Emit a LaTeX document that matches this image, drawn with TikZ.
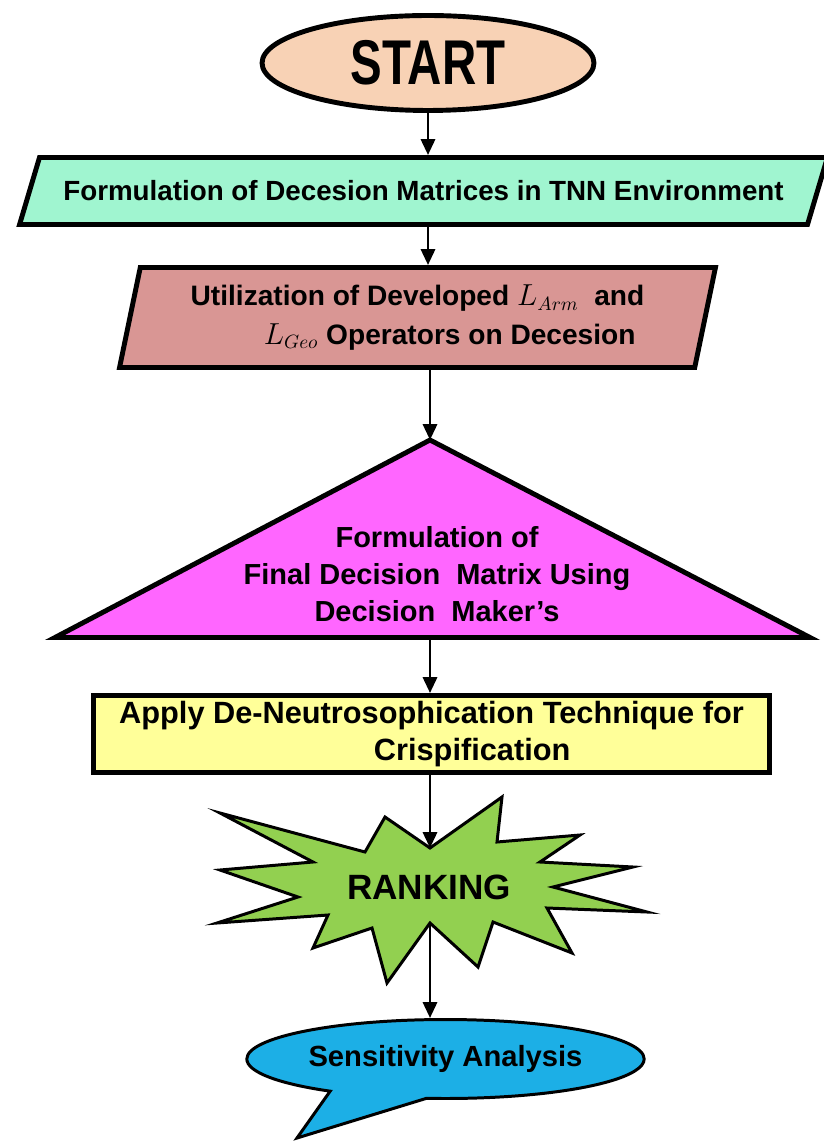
\documentclass[tikz,border=0pt]{standalone}
\usepackage{amsmath}
\usepackage{fontspec}
\setmainfont{Liberation Sans}
\newfontfamily\narrowsans[FakeStretch=0.75]{Liberation Sans}
\usetikzlibrary{positioning,arrows.meta}
\usetikzlibrary{shapes.geometric,shapes.callouts}

\definecolor{startfill}{HTML}{F8D2B5}
\definecolor{mintfill}{HTML}{A0F5D0}
\definecolor{rosefill}{HTML}{D99694}
\definecolor{pinkfill}{HTML}{FF66FF}
\definecolor{lemonfill}{HTML}{FFFF99}
\definecolor{leaffill}{HTML}{92D050}
\definecolor{skyfill}{HTML}{1CAFE6}

\newcommand{\bsize}[2]{\bfseries\fontsize{#1}{#2}\selectfont}

\tikzset{
  box/.style={draw, line width=2.8pt, text=black, inner sep=2pt},
  slant/.style={box, trapezium, trapezium stretches body},
  burst/.style={draw, line width=1.7pt, fill=leaffill, line join=miter},
  conn/.style={-{Triangle[width=8pt,length=9pt]}, line width=1.6pt},
}

\begin{document}
\begin{tikzpicture}[x=0.02cm, y=-0.02cm]
  \useasboundingbox (0,0) rectangle (823,1141);
  \node[box, ellipse, fill=startfill, minimum width=6.64cm, minimum height=1.9cm,
        font=\narrowsans\bsize{36}{40}] (start) at (428,63) {START};
  \node[slant, fill=mintfill, trapezium left angle=54, trapezium right angle=126,
        minimum width=16.16cm, minimum height=1.34cm, font=\bsize{15.8}{19}] (tnn) at (423.5,191)
    {Formulation of Decesion Matrices in TNN Environment};
  \node[slant, fill=rosefill, trapezium left angle=74, trapezium right angle=106,
        minimum width=11.92cm, minimum height=2cm, align=right, font=\bsize{16}{22}] (oper) at (417.5,317.5)
    {Utilization of Developed $L_{Arm}$\ \ and\\
     $L_{Geo}$\ Operators on Decesion\hspace*{5pt}};
  \coordinate (apex) at (430,440);
  \coordinate (bl) at (55,637.5);
  \coordinate (br) at (810,637.5);
  \draw[line width=2.8pt, fill=pinkfill] (apex) -- (br) -- (bl) -- cycle;
  \node[align=center, font=\bsize{16.5}{21}] (final) at (437,574)
    {Formulation of\\Final Decision\ \ Matrix Using\\Decision\ \ Maker's};
  \node[box, rectangle, fill=lemonfill, minimum width=13.52cm, minimum height=1.54cm, align=left,
        font=\bsize{17.5}{21.5}] (apply) at (431.5,734)
    {Apply De-Neutrosophication Technique for\\
     \hspace*{145pt}Crispification};
  \draw[burst] (430,848) coordinate (rtop) -- (502,797) -- (497,842) -- (580,835) -- (540,862)
    -- (633,867) -- (553,887) -- (647,912) -- (547,908) -- (572,953) -- (493,922)
    -- (478,967) -- (430,923) coordinate (rbot) -- (387,983) -- (372,928) -- (313,948)
    -- (328,915) -- (217,923) -- (298,897) -- (220,870) -- (313,862) -- (220,813)
    -- (365,852) -- (385,817) -- cycle;
  \node[font=\bsize{20}{24}] (rank) at (429,887) {RANKING};
  \node[box, ellipse callout, fill=skyfill, line width=1.7pt, minimum width=7.64cm, minimum height=1.58cm,
        callout absolute pointer={(297,1138)}, callout pointer arc=30, font=\bsize{16.6}{20}] (sens) at (445.5,1059)
    {Sensitivity Analysis};
  \draw[conn] (start) -- (start |- tnn.north);
  \draw[conn] (start |- tnn.south) -- (start |- oper.north);
  \draw[conn] (apex |- oper.south) -- (apex);
  \draw[conn] (apex |- bl) -- (apex |- apply.north);
  \draw[conn] (rtop |- apply.south) -- (rtop);
  \draw[conn] (rbot) -- (rbot |- sens.north);
\end{tikzpicture}
\end{document}
